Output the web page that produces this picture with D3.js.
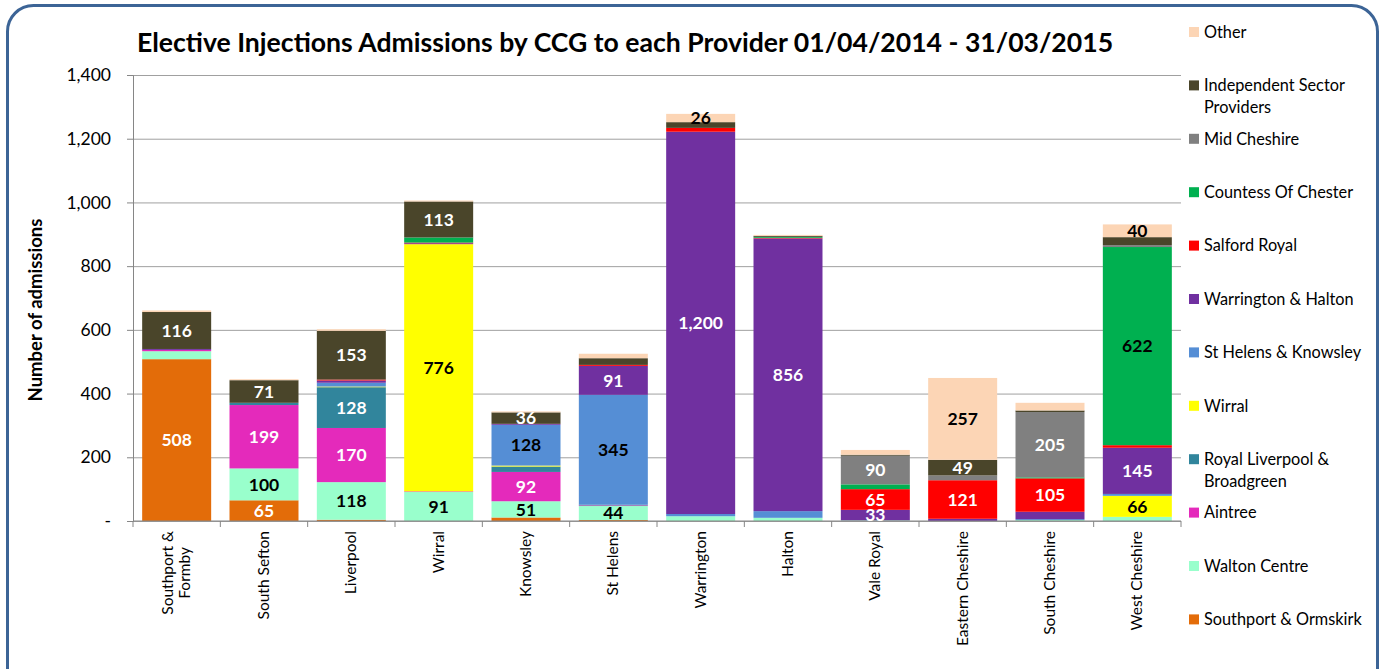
<!DOCTYPE html>
<html>
<head>
<meta charset="utf-8">
<script src="https://cdn.jsdelivr.net/npm/d3@7"></script>
<style>
  html, body { margin: 0; padding: 0; background: #fff; }
  svg { display: block; font-family: Lato, "Open Sans", sans-serif; }
</style>
</head>
<body>
<svg id="chart" width="1383" height="669"></svg>
<script>
const ccgs = ["Southport & Formby", "South Sefton", "Liverpool", "Wirral", "Knowsley", "St Helens",
              "Warrington", "Halton", "Vale Royal", "Eastern Cheshire", "South Cheshire", "West Cheshire"];

// providers, bottom of the stack first
const providers = ["Southport & Ormskirk", "Walton Centre", "Aintree", "Royal Liverpool & Broadgreen",
                   "Wirral", "St Helens & Knowsley", "Warrington & Halton", "Salford Royal",
                   "Countess Of Chester", "Mid Cheshire", "Independent Sector Providers", "Other"];

const southportOrmskirk = [508, 65, 4, 0, 11, 3, 0, 0, 0, 0, 0, 0];
const waltonCentre      = [25, 100, 118, 91, 51, 44, 15, 10, 2, 0, 3, 13];
const aintree           = [4, 199, 170, 2, 92, 2, 0, 0, 0, 0, 0, 0];
const royalLiverpool    = [0, 7, 128, 0, 17, 2, 0, 0, 0, 0, 0, 0];
const wirral            = [0, 0, 2, 776, 3, 0, 0, 0, 0, 0, 0, 66];
const stHelensKnowsley  = [0, 0, 12, 0, 128, 345, 7, 21, 0, 0, 3, 6];
const warringtonHalton  = [3, 0, 7, 3, 3, 91, 1200, 856, 33, 7, 23, 145];
const salfordRoyal      = [0, 0, 3, 2, 0, 3, 12, 2, 65, 121, 105, 8];
const countessChester   = [0, 0, 0, 16, 0, 0, 0, 3, 15, 0, 3, 622];
const midCheshire       = [0, 0, 0, 0, 0, 0, 0, 0, 90, 15, 205, 6];
const independent       = [116, 71, 153, 113, 36, 21, 18, 3, 3, 49, 5, 25];
const other             = [5, 3, 5, 3, 3, 14, 26, 3, 15, 257, 24, 40];

const yTicks = [0, 200, 400, 600, 800, 1000, 1200, 1400];

const seriesValues = [southportOrmskirk, waltonCentre, aintree, royalLiverpool, wirral, stHelensKnowsley,
                      warringtonHalton, salfordRoyal, countessChester, midCheshire, independent, other];
const colors = ["#E36C09", "#99FFCC", "#E42ABB", "#31859C", "#FFFF00", "#558ED5",
                "#7030A0", "#FF0000", "#00B050", "#808080", "#4A452A", "#FCD5B5"];
const labelColors = ["#fff", "#000", "#fff", "#fff", "#000", "#000",
                     "#fff", "#fff", "#000", "#fff", "#fff", "#000"];

// legend order is top of stack first; long names wrap
const legendLines = {
    "Independent Sector Providers": ["Independent Sector", "Providers"],
    "Royal Liverpool & Broadgreen": ["Royal Liverpool &", "Broadgreen"]
};
const xLabelLines = { "Southport & Formby": ["Southport &", "Formby"] };

const svg = d3.select("#chart");

// rounded frame
svg.append("rect")
    .attr("x", 7.5).attr("y", 5.5)
    .attr("width", 1370).attr("height", 690)
    .attr("rx", 26).attr("ry", 26)
    .attr("fill", "#fff")
    .attr("stroke", "#3C6496")
    .attr("stroke-width", 3);

const margin = { left: 133, right: 1181, top: 75, bottom: 521 };

const x = d3.scaleBand()
    .domain(ccgs)
    .range([margin.left, margin.right])
    .paddingInner(0.21)
    .paddingOuter(0.105);

const y = d3.scaleLinear()
    .domain([0, 1400])
    .range([margin.bottom, margin.top]);

// table for d3.stack
const table = ccgs.map((c, i) => {
    const row = { ccg: c };
    providers.forEach((p, j) => { row[p] = seriesValues[j][i]; });
    return row;
});
const stacked = d3.stack().keys(providers)(table);

// grid lines
svg.append("g")
    .attr("transform", `translate(${margin.left},0)`)
    .call(d3.axisLeft(y).tickValues(yTicks).tickSize(-(margin.right - margin.left)).tickFormat(""))
    .call(g => g.select(".domain").remove())
    .selectAll("line")
    .attr("stroke", "#a0a0a0");

// bars
const layers = svg.append("g").selectAll("g")
    .data(stacked)
    .join("g")
    .attr("fill", (d, i) => colors[i]);

layers.selectAll("rect")
    .data(d => d)
    .join("rect")
    .attr("x", d => x(d.data.ccg))
    .attr("y", d => y(d[1]))
    .attr("width", x.bandwidth())
    .attr("height", d => y(d[0]) - y(d[1]));

// y axis
const yAxis = svg.append("g")
    .attr("transform", `translate(${margin.left},0)`)
    .call(d3.axisLeft(y).tickValues(yTicks).tickSize(6).tickPadding(16)
        .tickFormat(v => v === 0 ? "-" : d3.format(",")(v)));
yAxis.selectAll("line, path").attr("stroke", "#868686");
yAxis.selectAll("text")
    .attr("font-family", "Lato, sans-serif")
    .attr("font-size", "17.5px")
    .attr("fill", "#000");

// x axis baseline with ticks at category boundaries
const xAxis = svg.append("g");
xAxis.append("line")
    .attr("x1", margin.left).attr("x2", margin.right)
    .attr("y1", y(0)).attr("y2", y(0))
    .attr("stroke", "#868686");
xAxis.selectAll(".bound")
    .data(d3.range(ccgs.length + 1))
    .join("line")
    .attr("x1", i => margin.left + i * x.step())
    .attr("x2", i => margin.left + i * x.step())
    .attr("y1", y(0)).attr("y2", y(0) + 6)
    .attr("stroke", "#868686");

// category labels, rotated
ccgs.forEach(c => {
    const lines = xLabelLines[c] || [c];
    const cx = x(c) + x.bandwidth() / 2;
    const t = xAxis.append("text")
        .attr("font-size", "15.5px")
        .attr("fill", "#000");
    lines.forEach(ln => {
        t.append("tspan").text(ln);
    });
    // measure the widest line so that multi-line labels are centred as a block
    const spans = t.selectAll("tspan").nodes();
    const maxW = d3.max(spans, s => s.getComputedTextLength());
    const top = y(0) + 10;
    const lh = 17;
    spans.forEach((s, k) => {
        d3.select(s)
            .attr("text-anchor", "middle")
            .attr("x", -(top + maxW / 2))
            .attr("y", cx + 5 + (k - (lines.length - 1) / 2) * lh);
    });
    t.attr("transform", "rotate(-90)");
});

// data labels
stacked.forEach((layer, i) => {
    svg.append("g").selectAll("text")
        .data(layer.filter(d => d[1] - d[0] >= 26))
        .join("text")
        .attr("x", d => x(d.data.ccg) + x.bandwidth() / 2)
        .attr("y", d => (y(d[0]) + y(d[1])) / 2)
        .attr("dy", "0.36em")
        .attr("text-anchor", "middle")
        .attr("font-size", "17.5px")
        .attr("font-weight", "700")
        .attr("fill", labelColors[i])
        .text(d => d3.format(",")(d[1] - d[0]));
});

// title
svg.append("text")
    .attr("x", 625)
    .attr("y", 52)
    .attr("text-anchor", "middle")
    .attr("font-size", "26.6px")
    .attr("font-weight", "700")
    .attr("fill", "#000")
    .text("Elective Injections Admissions by CCG to each Provider 01/04/2014 - 31/03/2015");

// y axis title
svg.append("text")
    .attr("transform", `translate(42,310) rotate(-90)`)
    .attr("text-anchor", "middle")
    .attr("font-size", "18.5px")
    .attr("font-weight", "700")
    .attr("fill", "#000")
    .text("Number of admissions");

// legend
const legendOrder = providers.map((p, i) => i).reverse();
const legend = svg.append("g");
legendOrder.forEach((si, k) => {
    const ly = 32 + k * 53.4;
    legend.append("rect")
        .attr("x", 1189).attr("y", ly - 5)
        .attr("width", 10).attr("height", 10)
        .attr("fill", colors[si]);
    const lines = legendLines[providers[si]] || [providers[si]];
    lines.forEach((ln, j) => {
        legend.append("text")
            .attr("x", 1204)
            .attr("y", ly + j * 22)
            .attr("dy", "0.35em")
            .attr("font-size", "16.3px")
            .attr("fill", "#000")
            .text(ln);
    });
});
</script>
</body>
</html>
